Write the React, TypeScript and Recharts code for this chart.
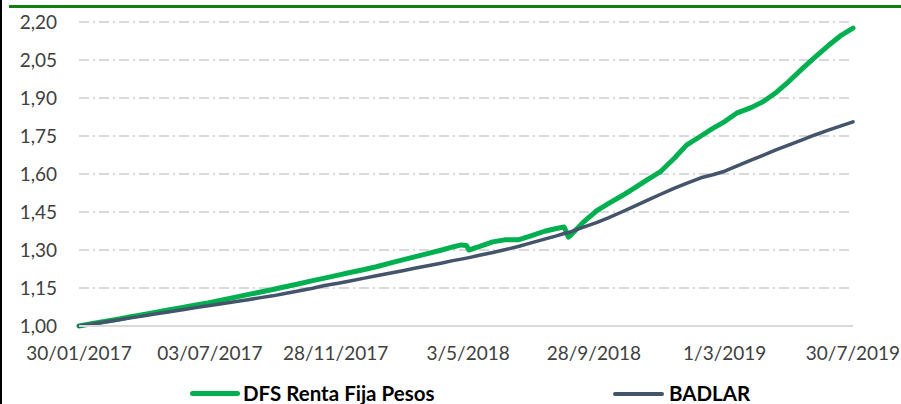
import { LineChart, Line, XAxis, YAxis, CartesianGrid } from "recharts";

const dates = [
  "2017-01-30", "2017-02-15", "2017-03-01", "2017-03-15", "2017-04-01", "2017-04-15",
  "2017-05-01", "2017-05-15", "2017-06-01", "2017-06-15", "2017-07-01", "2017-07-15",
  "2017-08-01", "2017-08-15", "2017-09-01", "2017-09-15", "2017-10-01", "2017-10-15",
  "2017-11-01", "2017-11-15", "2017-12-01", "2017-12-15", "2018-01-01", "2018-01-15",
  "2018-02-01", "2018-02-15", "2018-03-01", "2018-03-15", "2018-04-01", "2018-04-15",
  "2018-04-25", "2018-05-01", "2018-05-04", "2018-05-15", "2018-06-01", "2018-06-15",
  "2018-07-01", "2018-07-15", "2018-08-01", "2018-08-15", "2018-08-24", "2018-08-29",
  "2018-09-01", "2018-09-15", "2018-10-01", "2018-10-15", "2018-11-01", "2018-11-15",
  "2018-12-01", "2018-12-15", "2019-01-01", "2019-01-15", "2019-02-01", "2019-02-15",
  "2019-03-01", "2019-03-15", "2019-04-01", "2019-04-15", "2019-05-01", "2019-05-15",
  "2019-06-01", "2019-06-15", "2019-07-01", "2019-07-15", "2019-07-30",
];

const fundValues = [
  1.0, 1.01, 1.018, 1.026, 1.037, 1.045, 1.054, 1.063, 1.073, 1.082, 1.091, 1.101,
  1.113, 1.123, 1.134, 1.144, 1.156, 1.166, 1.179, 1.189, 1.201, 1.211, 1.223, 1.234,
  1.249, 1.261, 1.273, 1.285, 1.299, 1.312, 1.32, 1.318, 1.3, 1.312, 1.332, 1.34,
  1.34, 1.355, 1.374, 1.385, 1.391, 1.351, 1.359, 1.408, 1.454, 1.483, 1.516, 1.545,
  1.58, 1.608, 1.663, 1.714, 1.75, 1.78, 1.807, 1.84, 1.862, 1.885, 1.923, 1.964,
  2.018, 2.06, 2.107, 2.145, 2.176,
];

const badlarValues = [
  1.0, 1.008, 1.016, 1.023, 1.032, 1.039, 1.048, 1.055, 1.064, 1.072, 1.08, 1.087,
  1.096, 1.103, 1.112, 1.119, 1.129, 1.138, 1.149, 1.16, 1.169, 1.178, 1.189, 1.198,
  1.209, 1.218, 1.228, 1.237, 1.248, 1.258, 1.264, 1.268, 1.27, 1.278, 1.29, 1.301,
  1.314, 1.327, 1.343, 1.356, 1.365, 1.369, 1.372, 1.389, 1.408, 1.427, 1.452, 1.473,
  1.498, 1.519, 1.544, 1.563, 1.585, 1.597, 1.611, 1.631, 1.655, 1.674, 1.696, 1.714,
  1.736, 1.754, 1.773, 1.789, 1.806,
];

const tickDates = ["2017-01-30", "2017-07-03", "2017-11-28", "2018-05-03", "2018-09-28", "2019-03-01", "2019-07-30"];
const tickLabels = ["30/01/2017", "03/07/2017", "28/11/2017", "3/5/2018", "28/9/2018", "1/3/2019", "30/7/2019"];
const yTicks = [1.0, 1.15, 1.3, 1.45, 1.6, 1.75, 1.9, 2.05, 2.2];

const seriesNames = ["DFS Renta Fija Pesos", "BADLAR"];
const seriesColors = ["#00b050", "#44546a"];

const toTime = (d: string) => {
  const [y, m, day] = d.split("-").map(Number);
  return Date.UTC(y, m - 1, day);
};

const data = dates.map((d, i) => ({
  t: toTime(d),
  fund: fundValues[i],
  badlar: badlarValues[i],
}));

const tickTimes = tickDates.map(toTime);

const font = "Lato, 'Open Sans', sans-serif";

export default function App() {
  return (
    <div
      style={{
        position: "absolute",
        left: 0,
        top: 0,
        width: 901,
        height: 404,
        overflow: "hidden",
        background: "#fff",
        fontFamily: font,
      }}
    >
      <div style={{ position: "absolute", left: 0, top: 0 }}>
        <LineChart width={901} height={404} data={data} margin={{ top: 22, right: 48, bottom: 48, left: 0 }}>
          <CartesianGrid vertical={false} stroke="#d9d9d9" strokeWidth={2} strokeDasharray="10 4 2 4" />
          <XAxis
            dataKey="t"
            type="number"
            domain={[tickTimes[0], tickTimes[tickTimes.length - 1]]}
            ticks={tickTimes}
            interval={0}
            tickFormatter={(v: number) => tickLabels[tickTimes.indexOf(v)] ?? ""}
            height={30}
            tickLine={false}
            tickMargin={15}
            axisLine={{ stroke: "#d9d9d9", strokeWidth: 2 }}
            tick={{ fill: "#404040", fontSize: 19, fontFamily: font }}
          />
          <YAxis
            domain={[1, 2.2]}
            ticks={yTicks}
            interval={0}
            width={79}
            axisLine={false}
            tickLine={false}
            tickMargin={16}
            tickFormatter={(v: number) => v.toFixed(2).replace(".", ",")}
            tick={{ fill: "#404040", fontSize: 19, fontFamily: font }}
          />
          <Line
            dataKey="fund"
            name={seriesNames[0]}
            stroke={seriesColors[0]}
            strokeWidth={5}
            strokeLinecap="round"
            strokeLinejoin="round"
            dot={false}
            type="linear"
            isAnimationActive={false}
          />
          <Line
            dataKey="badlar"
            name={seriesNames[1]}
            stroke={seriesColors[1]}
            strokeWidth={3.5}
            strokeLinecap="round"
            strokeLinejoin="round"
            dot={false}
            type="linear"
            isAnimationActive={false}
          />
        </LineChart>
      </div>
      {/* frame: black left edge, green top rule */}
      <div style={{ position: "absolute", left: 0, top: 0, width: 2, height: 404, background: "#000" }} />
      <div style={{ position: "absolute", left: 9, top: 5, width: 892, height: 3, background: "#0f7f12" }} />
      {/* legend */}
      <div style={{ position: "absolute", left: 190, top: 391, width: 50, height: 5, borderRadius: 3, background: seriesColors[0] }} />
      <div style={{ position: "absolute", left: 243, top: 381, fontSize: 20.5, fontWeight: 700, color: "#000", lineHeight: "24px", whiteSpace: "nowrap" }}>
        {seriesNames[0]}
      </div>
      <div style={{ position: "absolute", left: 613, top: 391.5, width: 51, height: 4, borderRadius: 2, background: seriesColors[1] }} />
      <div style={{ position: "absolute", left: 669, top: 381, fontSize: 20.5, fontWeight: 700, color: "#000", lineHeight: "24px", whiteSpace: "nowrap" }}>
        {seriesNames[1]}
      </div>
    </div>
  );
}
